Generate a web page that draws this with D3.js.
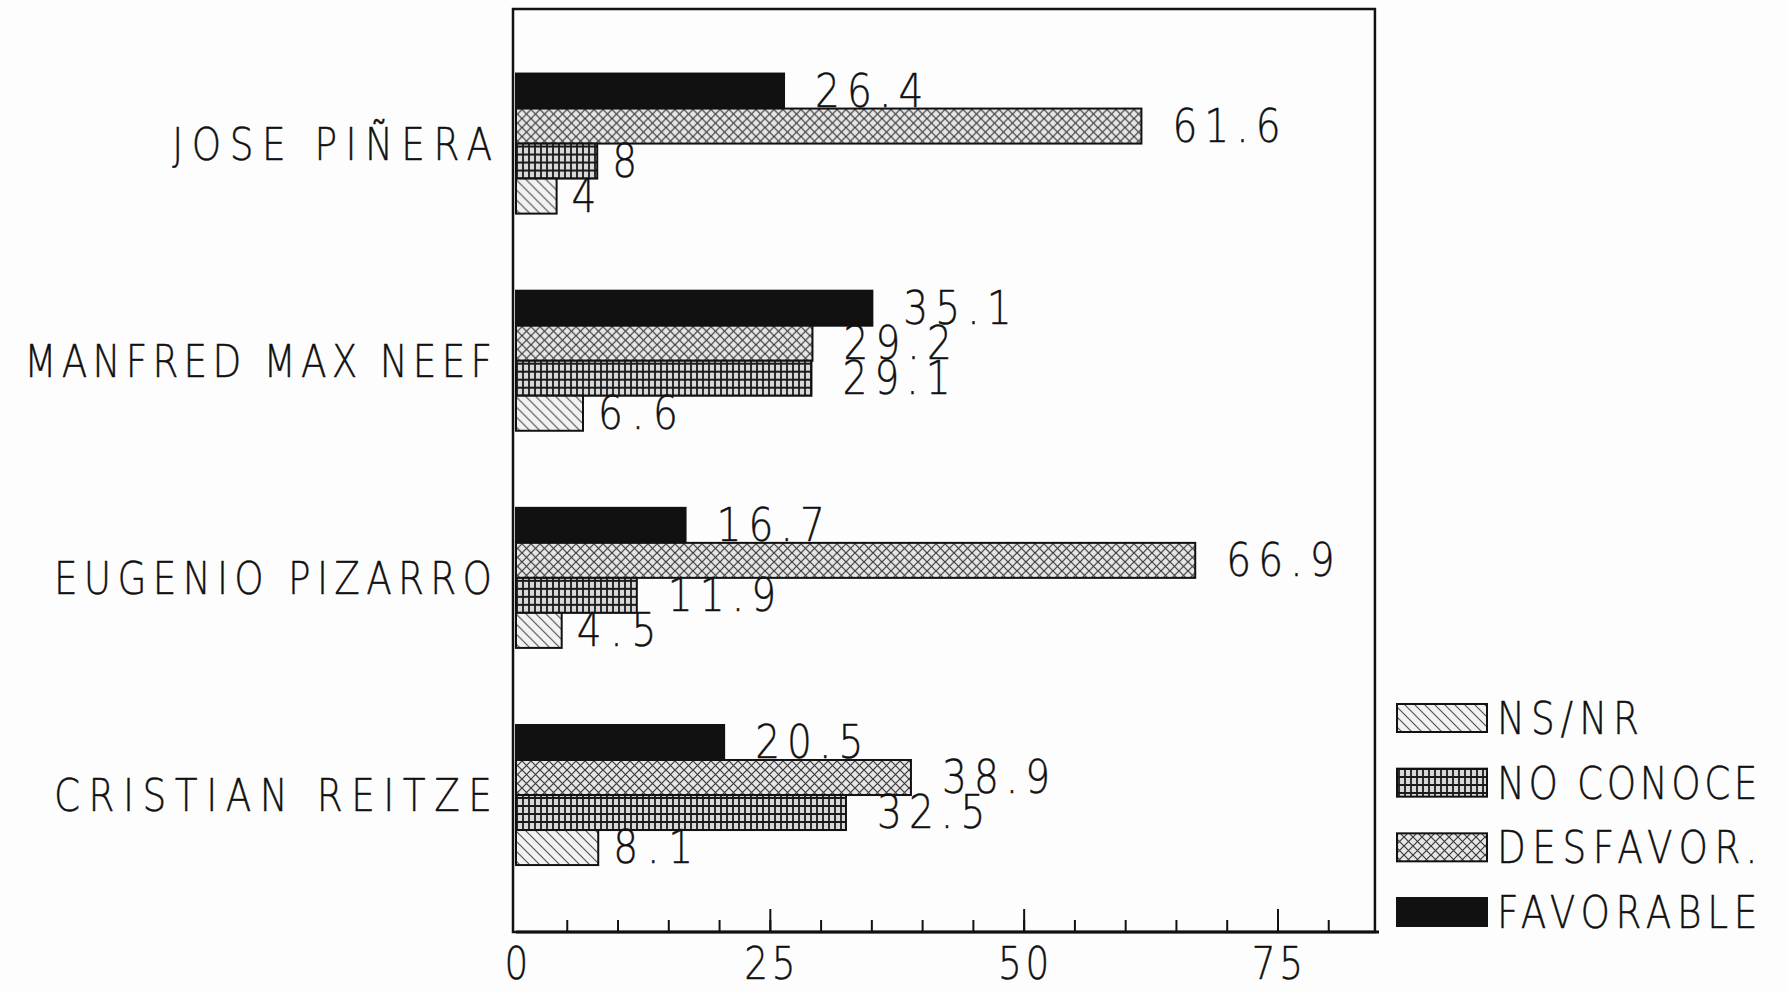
<!DOCTYPE html>
<html>
<head>
<meta charset="utf-8">
<script src="https://cdn.jsdelivr.net/npm/d3@7"></script>
<style>
  html, body { margin: 0; padding: 0; background: #fdfdfd; }
  svg { display: block; }
</style>
</head>
<body>
<svg id="chart" width="1787" height="991"></svg>
<script>
// data
const candidates = ["JOSE PIÑERA", "MANFRED MAX NEEF", "EUGENIO PIZARRO", "CRISTIAN REITZE"];
const seriesNames = ["FAVORABLE", "DESFAVOR.", "NO CONOCE", "NS/NR"];
const favorable = [26.4, 35.1, 16.7, 20.5];
const desfavor = [61.6, 29.2, 66.9, 38.9];
const noConoce = [8, 29.1, 11.9, 32.5];
const nsnr = [4, 6.6, 4.5, 8.1];
const xTickLabels = [0, 25, 50, 75];
const legendOrder = ["NS/NR", "NO CONOCE", "DESFAVOR.", "FAVORABLE"];

const seriesValues = {
    "FAVORABLE": favorable,
    "DESFAVOR.": desfavor,
    "NO CONOCE": noConoce,
    "NS/NR": nsnr
};

const svg = d3.select("#chart");
const ink = "#111";

// Patterns

const defs = svg.append("defs");

const pDes = defs.append("pattern").attr("id", "p-desfavor")
    .attr("patternUnits", "userSpaceOnUse").attr("width", 9).attr("height", 9);
pDes.append("rect").attr("width", 9).attr("height", 9).attr("fill", "#e6e6e6");
pDes.append("path").attr("d", "M0,0L9,9M9,0L0,9")
    .attr("stroke", "#3a3a3a").attr("stroke-width", 1.2);

const pNo = defs.append("pattern").attr("id", "p-noconoce")
    .attr("patternUnits", "userSpaceOnUse").attr("width", 6).attr("height", 8);
pNo.append("rect").attr("width", 6).attr("height", 8).attr("fill", "#d8d8d8");
pNo.append("path").attr("d", "M1,0V8M0,1H6")
    .attr("stroke", "#1a1a1a").attr("stroke-width", 1.8);

const pNs = defs.append("pattern").attr("id", "p-nsnr")
    .attr("patternUnits", "userSpaceOnUse").attr("width", 10).attr("height", 10);
pNs.append("rect").attr("width", 10).attr("height", 10).attr("fill", "#f2f2f2");
pNs.append("path").attr("d", "M0,0L10,10M-5,5L5,15M5,-5L15,5")
    .attr("stroke", "#555").attr("stroke-width", 1.2);

const fills = {
    "FAVORABLE": ink,
    "DESFAVOR.": "url(#p-desfavor)",
    "NO CONOCE": "url(#p-noconoce)",
    "NS/NR": "url(#p-nsnr)"
};

// Scales

const x = d3.scaleLinear().domain([0, 85]).range([516, 1379]);

const yGroup = d3.scaleBand()
    .domain(candidates)
    .range([35, 903.6])
    .paddingInner(0.355)
    .paddingOuter(0.1775);

const yBar = d3.scaleBand()
    .domain(seriesNames)
    .range([0, yGroup.bandwidth()])
    .padding(0);

// plotter-like text: narrow glyphs spread over fixed character cells
function plotText(parent, str, px, cy, anchor, cell, size) {
    const squeeze = 0.85;
    const n = String(str).length;
    const w = n * cell - 0.2 * cell;
    let x0 = px;
    if (anchor === "end") x0 = px - w;
    if (anchor === "middle") x0 = px - w / 2;
    const base = cy + size * 0.365;
    const t = parent.append("text")
        .attr("transform", `translate(${ x0 },${ base }) scale(${ squeeze },1)`)
        .attr("x", 0).attr("y", 0)
        .style("font-family", "'DejaVu Sans', sans-serif")
        .style("font-weight", 200)
        .style("font-size", size + "px")
        .attr("fill", ink)
        .attr("stroke", ink)
        .attr("stroke-width", 0.4)
        .text(str);
    if (n > 1) {
        t.attr("textLength", w / squeeze).attr("lengthAdjust", "spacing");
    }
    return t;
}

// Frame and axis

const axisY = 932;

svg.append("rect")
    .attr("x", 513).attr("y", 9)
    .attr("width", x(84.6) - 513).attr("height", axisY - 9)
    .attr("fill", "none").attr("stroke", ink).attr("stroke-width", 2.5);

svg.append("line")
    .attr("x1", x(0)).attr("x2", x(85))
    .attr("y1", axisY).attr("y2", axisY)
    .attr("stroke", ink).attr("stroke-width", 3);

const minorAxis = svg.append("g")
    .attr("transform", `translate(0,${ axisY })`)
    .call(d3.axisTop(x).tickValues(d3.range(5, 85, 5)).tickSize(12).tickFormat(""));
const majorAxis = svg.append("g")
    .attr("transform", `translate(0,${ axisY })`)
    .call(d3.axisTop(x).tickValues(xTickLabels.filter(v => v > 0)).tickSize(23).tickFormat(""));
[minorAxis, majorAxis].forEach(a => {
    a.select(".domain").remove();
    a.selectAll(".tick line").attr("stroke", ink).attr("stroke-width", 2);
});

const tickLabels = svg.append("g");
xTickLabels.forEach(v => plotText(tickLabels, String(v), x(v), 963, "middle", 28.5, 44));

// Bars

const groups = svg.append("g").selectAll("g")
    .data(candidates)
    .join("g")
    .attr("transform", d => `translate(0,${ yGroup(d) })`);

groups.each(function (cand, i) {
    const g = d3.select(this);
    const rows = seriesNames.map(s => ({ s, v: seriesValues[s][i] }));

    g.selectAll("rect")
        .data(rows)
        .join("rect")
        .attr("x", x(0))
        .attr("y", d => yBar(d.s))
        .attr("width", d => x(d.v) - x(0))
        .attr("height", yBar.bandwidth())
        .attr("fill", d => fills[d.s])
        .attr("stroke", ink)
        .attr("stroke-width", 2);

    rows.forEach(d => {
        const gap = d.v < 10 ? 15 : 31;
        plotText(g, String(d.v), x(d.v) + gap, yBar(d.s) + yBar.bandwidth() / 2 - 1, "start", 28.5, 46);
    });
});

// Category labels

const catLabels = svg.append("g");
candidates.forEach(c => {
    plotText(catLabels, c, 492, yGroup(c) + yGroup.bandwidth() / 2, "end", 29.6, 44);
});

// Legend

const legendY = d3.scalePoint().domain(legendOrder).range([718, 912]);
const legend = svg.append("g");
legendOrder.forEach(s => {
    legend.append("rect")
        .attr("x", 1397).attr("y", legendY(s) - 14)
        .attr("width", 90).attr("height", 28)
        .attr("fill", fills[s])
        .attr("stroke", ink).attr("stroke-width", 2);
    plotText(legend, s, 1497, legendY(s), "start", 29.6, 44);
});
</script>
</body>
</html>
